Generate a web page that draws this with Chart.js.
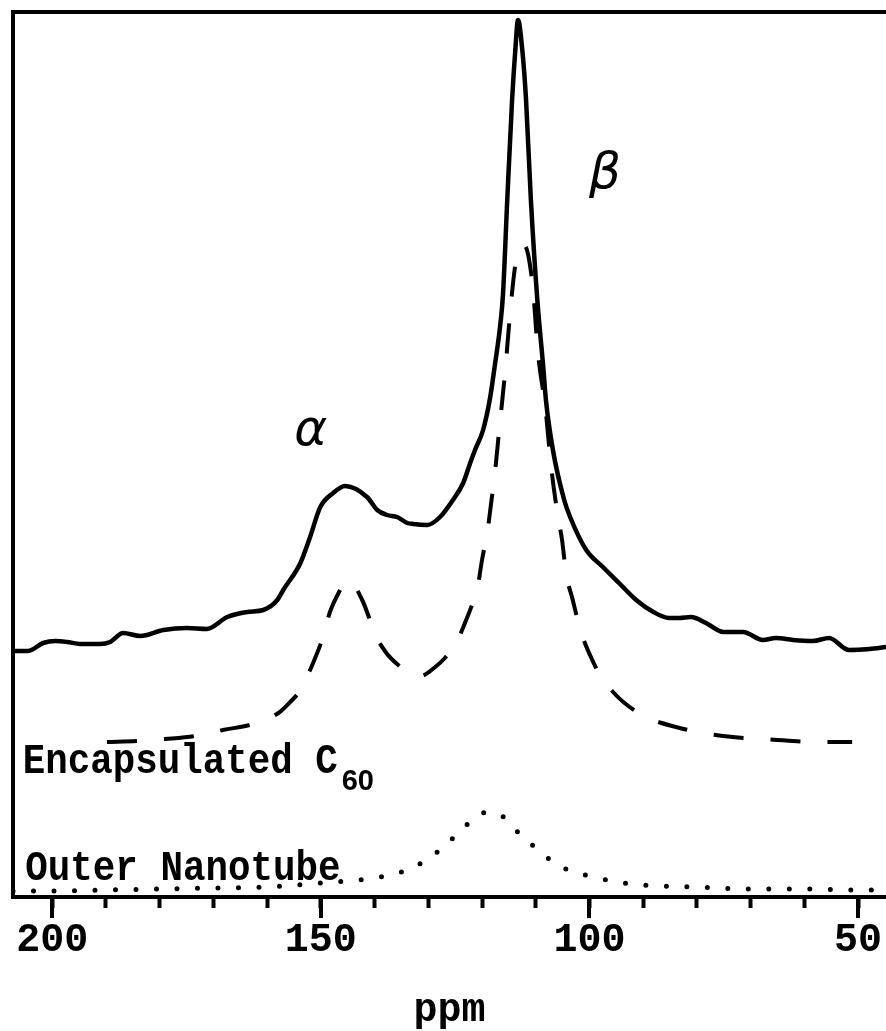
<!DOCTYPE html>
<html>
<head>
<meta charset="utf-8">
<script src="https://cdn.jsdelivr.net/npm/chart.js@4.4.1/dist/chart.umd.min.js"></script>
<style>
  body { margin: 0; background: #fff; }
  canvas { display: block; }
</style>
</head>
<body>
<canvas id="chart" width="886" height="1031"></canvas>
<script>
// chemical shift (ppm) and intensity (arb. units)
const solidPpm = [207.3, 204.5, 201.7, 199.4, 197.2, 194.8, 191.1, 189.2, 186.8, 183.6, 179.3, 174.9, 171.2, 167.4, 163.7, 160.7, 158.1, 157.0, 153.8, 152.0, 150.1, 147.7, 145.5, 141.4, 139.5, 137.7, 135.8, 133.9, 132.8, 130.2, 127.8, 125.4, 123.5, 122.2, 121.3, 119.8, 118.5, 117.6, 116.6, 116.1, 115.3, 114.4, 113.8, 113.3, 112.5, 111.8, 110.9, 109.7, 108.6, 108.1, 106.8, 104.7, 103.6, 100.6, 97.5, 94.5, 91.3, 88.1, 85.2, 83.3, 81.1, 78.3, 75.1, 71.4, 67.7, 65.3, 62.1, 58.4, 55.4, 51.7, 47.9, 44.8];
const solidIntensity = [246, 246, 254, 256, 255, 253, 253, 255, 264, 261, 267, 269, 268, 280, 285, 287, 297, 307, 334, 360, 390, 404, 411, 400, 387, 382, 380, 374, 373, 372, 380, 397, 414, 434, 447, 467, 499, 532, 572, 602, 697, 797, 847, 877, 847, 797, 697, 597, 530, 497, 447, 397, 380, 347, 330, 314, 297, 285, 279, 279, 280, 274, 265, 265, 257, 259, 257, 256, 259, 247, 248, 250];

const c60Ppm = [189.8, 184.2, 179.0, 173.4, 168.2, 162.6, 157.9, 155.7, 153.8, 151.6, 149.6, 148.3, 146.8, 145.5, 144.7, 142.3, 141.2, 140.3, 137.8, 135.6, 133.4, 131.5, 128.7, 126.9, 125.0, 122.8, 121.8, 120.9, 120.0, 119.0, 118.3, 117.6, 116.8, 115.7, 114.8, 113.8, 112.9, 112.2, 111.4, 110.5, 109.6, 108.2, 107.1, 106.0, 105.1, 104.3, 103.2, 101.7, 99.9, 97.5, 95.6, 93.7, 89.5, 83.9, 78.8, 73.3, 68.0, 62.1, 57.1, 51.1];
const c60Intensity = [155, 156, 158, 161, 167, 173, 184, 195, 207, 232, 260, 285, 303, 314, 316, 297, 282, 267, 244, 232, 224, 221, 230, 239, 252, 279, 293, 307, 337, 365, 394, 424, 467, 525, 582, 632, 647, 652, 642, 607, 545, 489, 429, 385, 357, 322, 299, 267, 242, 217, 205, 195, 180, 170, 164, 160, 158, 156, 155, 155];

const tubePpm = [207.3, 200, 190, 180, 170, 160, 150, 145, 140, 135, 130, 127, 124, 121, 118.9, 116, 113, 110, 107, 104, 100, 95, 90, 80, 70, 60, 50, 44.8];
const tubeIntensity = [6, 6, 7, 8, 9, 10, 14, 16, 19, 25, 38, 51, 66, 81, 85, 80, 63, 49, 36, 27, 21, 15, 12, 10, 8, 8, 7, 7];

const majorTicks = [200, 150, 100, 50];

// text labels, placed in data units
const peakNames = ["α", "β"];
const peakNamePpm = [151.9, 97.1];
const peakNameHeight = [452, 709];

const traceNames = ["Encapsulated C", "Outer Nanotube"];
const traceNamePpm = [205.5, 205.0];
const traceNameHeight = [124, 17];

function toPoints(xs, ys) {
  return xs.map((x, i) => ({ x: x, y: ys[i] }));
}

const monoFont = '"Liberation Mono", "Courier New", monospace';

const decorations = {
  id: "decorations",
  afterDraw(chart) {
    const ctx = chart.ctx;
    const xs = chart.scales.x;
    const ys = chart.scales.y;
    const area = chart.chartArea;

    ctx.save();
    ctx.strokeStyle = "#000";
    ctx.fillStyle = "#000";
    ctx.lineWidth = 4;
    ctx.lineCap = "square";

    // left and top frame
    ctx.beginPath();
    ctx.moveTo(area.left, area.bottom);
    ctx.lineTo(area.left, area.top);
    ctx.lineTo(area.right + 2, area.top);
    ctx.stroke();

    // longer ticks at labelled values
    ctx.lineCap = "butt";
    majorTicks.forEach((v) => {
      const px = Math.round(xs.getPixelForValue(v));
      ctx.beginPath();
      ctx.moveTo(px, area.bottom);
      ctx.lineTo(px, area.bottom + 21);
      ctx.stroke();
    });

    // greek peak names
    ctx.font = 'italic 50px "DejaVu Sans", sans-serif';
    ctx.textAlign = "center";
    ctx.textBaseline = "alphabetic";
    peakNames.forEach((t, i) => {
      ctx.fillText(t, xs.getPixelForValue(peakNamePpm[i]), ys.getPixelForValue(peakNameHeight[i]));
    });

    // trace names
    ctx.textAlign = "left";
    traceNames.forEach((t, i) => {
      const px = xs.getPixelForValue(traceNamePpm[i]);
      const py = ys.getPixelForValue(traceNameHeight[i]);
      ctx.save();
      ctx.translate(px, py);
      ctx.scale(1, 1.13);
      ctx.font = "bold 37.5px " + monoFont;
      ctx.fillText(t, 0, 0);
      const w = ctx.measureText(t).width;
      ctx.restore();
      if (i === 0) {
        ctx.font = 'bold 29px "Liberation Sans", Arial, sans-serif';
        ctx.fillText("60", px + w + 4, py + 17);
      }
    });
    ctx.restore();
  }
};

const ctx = document.getElementById("chart").getContext("2d");
const myChart = new Chart(ctx, {
  type: "line",
  data: {
    datasets: [
      {
        label: "Spectrum",
        data: toPoints(solidPpm, solidIntensity),
        borderColor: "#000",
        borderWidth: 4.5,
        borderJoinStyle: "round",
        borderCapStyle: "round",
        pointRadius: 0,
        cubicInterpolationMode: "monotone"
      },
      {
        label: "Encapsulated C60",
        data: toPoints(c60Ppm, c60Intensity),
        borderColor: "#000",
        borderWidth: 4,
        borderDash: [30, 27],
        pointRadius: 0,
        cubicInterpolationMode: "monotone"
      },
      {
        label: "Outer Nanotube",
        data: toPoints(tubePpm, tubeIntensity),
        borderColor: "#000",
        borderWidth: 5,
        borderDash: [0, 20.5],
        borderCapStyle: "round",
        pointRadius: 0,
        cubicInterpolationMode: "monotone"
      }
    ]
  },
  options: {
    responsive: false,
    animation: false,
    devicePixelRatio: 1,
    layout: { padding: { left: 13, top: 12, right: 0, bottom: 0 } },
    plugins: {
      legend: { display: false },
      tooltip: { enabled: false }
    },
    scales: {
      x: {
        type: "linear",
        reverse: true,
        min: 44.8,
        max: 207.3,
        afterFit: (scale) => {
          scale.height = 134;
          scale.paddingLeft = 0;
          scale.paddingRight = 0;
        },
        border: { display: true, color: "#000", width: 4 },
        grid: {
          drawOnChartArea: false,
          drawTicks: true,
          tickLength: 11,
          tickWidth: 4,
          tickColor: "#000"
        },
        ticks: {
          stepSize: 10,
          includeBounds: false,
          autoSkip: false,
          maxRotation: 0,
          padding: 9,
          color: "#000",
          font: { family: monoFont, size: 40, weight: "bold" },
          callback: (v) => (v % 50 === 0 ? String(v) : "")
        },
        title: {
          display: true,
          text: "ppm",
          color: "#000",
          font: { family: monoFont, size: 40, weight: "bold", lineHeight: 1 },
          padding: { top: 0, bottom: 0 }
        }
      },
      y: {
        display: false,
        min: 0,
        max: 885
      }
    }
  },
  plugins: [decorations]
});
</script>
</body>
</html>
